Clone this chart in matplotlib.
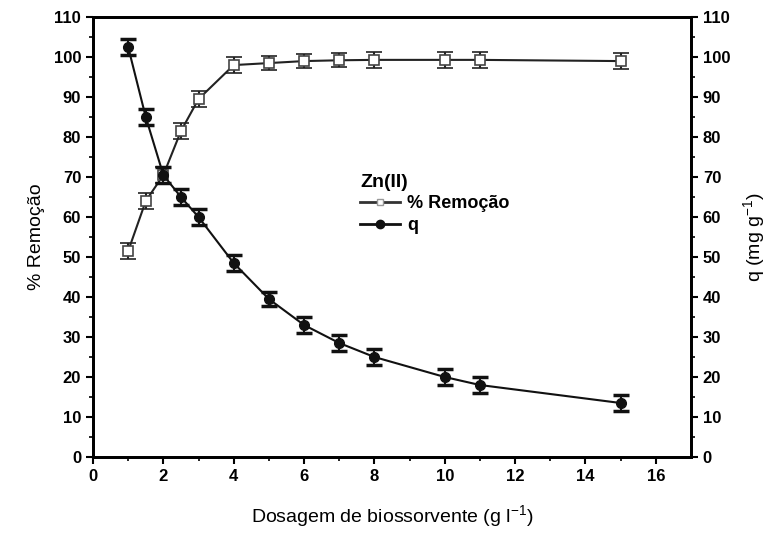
import matplotlib.pyplot as plt
from matplotlib.lines import Line2D
import numpy as np

plt.rcParams['font.family'] = ['Liberation Sans Narrow', 'Liberation Sans', 'DejaVu Sans']
plt.rcParams['font.weight'] = 'bold'
plt.rcParams['mathtext.default'] = 'regular'

# dosagem de biossorvente (g/l)
dose = [1, 1.5, 2, 2.5, 3, 4, 5, 6, 7, 8, 10, 11, 15]
remocao = [51.5, 64, 70.5, 81.5, 89.5, 98, 98.5, 99, 99.2, 99.3, 99.3, 99.3, 99]
remocao_err = [2, 2, 2, 2, 2, 2, 1.8, 1.8, 1.8, 2, 2, 2, 2]
q = [102.5, 85, 70.5, 65, 60, 48.5, 39.5, 33, 28.5, 25, 20, 18, 13.5]
q_err = [2, 2, 2, 2, 2, 2, 1.8, 2, 2, 2, 2, 2, 2]

fig = plt.figure(figsize=(7.66, 5.34), dpi=100)
ax = fig.add_axes([0.1214, 0.1442, 0.9021 - 0.1214, 0.968 - 0.1442])
ax2 = ax.twinx()

ax.errorbar(dose, remocao, yerr=remocao_err, color='#222222', lw=1.5,
            marker='s', ms=7, mfc='white', mec='#444444', mew=1.2,
            ecolor='#222222', elinewidth=1.5, capsize=6, capthick=2.5, zorder=3)
ax2.errorbar(dose, q, yerr=q_err, color='#111111', lw=1.5,
             marker='o', ms=7, mfc='#111111', mec='#111111',
             ecolor='#111111', elinewidth=1.5, capsize=6, capthick=2.5, zorder=3)

for a in (ax, ax2):
    a.set_ylim(0, 110)
    a.set_yticks(np.arange(0, 111, 10))
    a.set_yticks(np.arange(5, 110, 10), minor=True)
    a.tick_params(axis='y', which='major', length=5, width=1.5, labelsize=12)
    a.tick_params(axis='y', which='minor', length=3, width=1.2)
    for s in a.spines.values():
        s.set_linewidth(2)

ax.set_xlim(0, 17)
ax.set_xticks(np.arange(0, 17, 2))
ax.set_xticks(np.arange(1, 17, 2), minor=True)
ax.tick_params(axis='x', which='major', length=5, width=1.5, labelsize=12)
ax.tick_params(axis='x', which='minor', length=3, width=1.2)

ax.set_xlabel('Dosagem de biossorvente (g l$^{-1}$)', fontsize=14,
              fontweight='normal', labelpad=14)
ax.set_ylabel('% Remoção', fontsize=14, fontweight='normal', labelpad=6)
ax2.set_ylabel('q (mg g$^{-1}$)', fontsize=14, fontweight='normal', labelpad=8)

h1 = Line2D([], [], color='#333333', lw=2, marker='s', ms=5,
            mfc='white', mec='#999999', mew=1)
h2 = Line2D([], [], color='#111111', lw=2, marker='o', ms=6,
            mfc='#111111', mec='#111111')
leg = ax2.legend([h1, h2], ['% Remoção', 'q'], title='Zn(II)', loc='upper left',
                 bbox_to_anchor=(0.435, 0.66), frameon=False, fontsize=13,
                 title_fontsize=14, handlelength=2.2, handletextpad=0.4,
                 borderaxespad=0, labelspacing=0.25)
leg._legend_box.align = 'left'

fig.savefig('out.png', dpi=100)
